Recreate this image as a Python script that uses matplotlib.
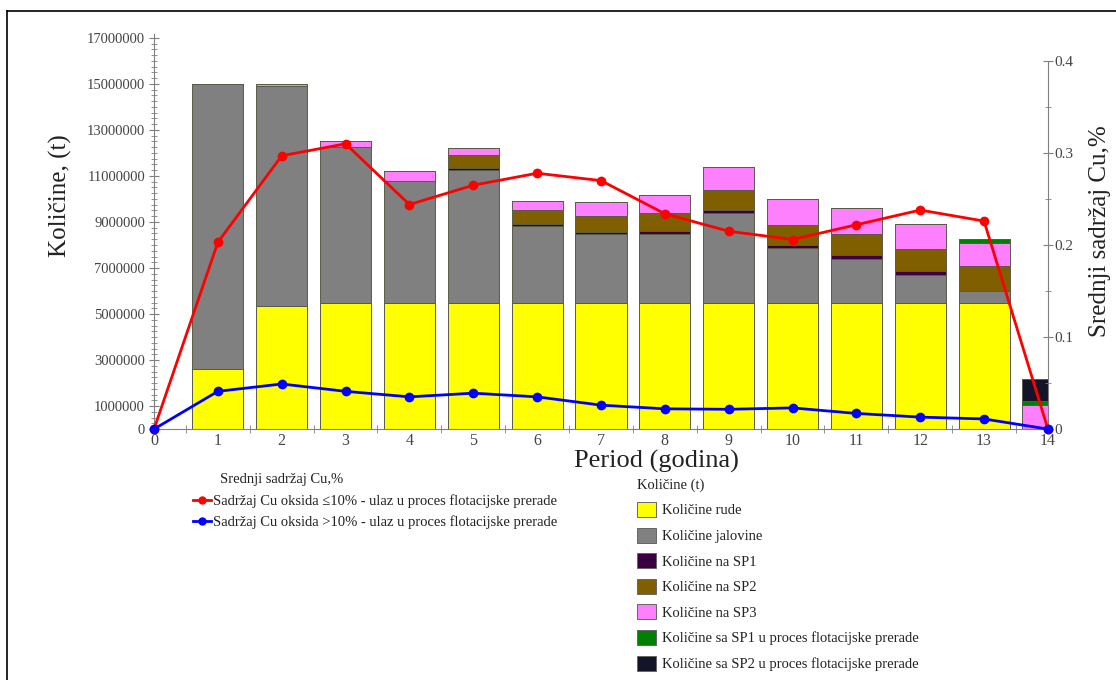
#!/usr/bin/env python3
"""
Stacked quantities per period with average Cu content on a second axis
"""
import numpy as np
import matplotlib
matplotlib.use('Agg')
import matplotlib.pyplot as plt
from matplotlib.lines import Line2D
from matplotlib.patches import Patch
from matplotlib.ticker import MultipleLocator, FixedLocator

plt.rcParams['font.family'] = ['Liberation Serif', 'DejaVu Serif']

periods = np.arange(1, 15)
# quantities in tonnes
ore   = [2.61e6, 5.33e6, 5.50e6, 5.50e6, 5.50e6, 5.50e6, 5.50e6, 5.50e6, 5.50e6, 5.50e6, 5.50e6, 5.50e6, 5.50e6, 0]
waste = [12.39e6, 9.59e6, 6.74e6, 5.27e6, 5.76e6, 3.31e6, 2.96e6, 2.96e6, 3.90e6, 2.36e6, 1.89e6, 1.20e6, 0.50e6, 0]
sp1   = [0, 0, 0, 0, 0.08e6, 0.10e6, 0.11e6, 0.17e6, 0.12e6, 0.15e6, 0.16e6, 0.15e6, 0, 0]
sp2   = [0, 0, 0, 0, 0.56e6, 0.60e6, 0.70e6, 0.78e6, 0.88e6, 0.85e6, 0.94e6, 0.97e6, 1.07e6, 0]
sp3   = [0, 0.09e6, 0.29e6, 0.43e6, 0.33e6, 0.39e6, 0.58e6, 0.78e6, 1.01e6, 1.14e6, 1.11e6, 1.08e6, 1.02e6, 1.05e6]
from_sp1 = [0, 0, 0, 0, 0, 0, 0, 0, 0, 0, 0, 0, 0.17e6, 0.17e6]
from_sp2 = [0, 0, 0, 0, 0, 0, 0, 0, 0, 0, 0, 0, 0, 0.95e6]

# average Cu content, %
line_x = np.arange(0, 15)
cu_low  = [0, 0.203, 0.297, 0.310, 0.244, 0.265, 0.278, 0.270, 0.234, 0.215, 0.206, 0.222, 0.238, 0.226, 0]
cu_high = [0, 0.041, 0.049, 0.041, 0.035, 0.039, 0.035, 0.026, 0.022, 0.0215, 0.023, 0.017, 0.013, 0.011, 0]

stack = [
    (ore, '#FFFF00', 'Količine rude'),
    (waste, '#808080', 'Količine jalovine'),
    (sp1, '#3C0040', 'Količine na SP1'),
    (sp2, '#7F5F00', 'Količine na SP2'),
    (sp3, '#FF80FF', 'Količine na SP3'),
    (from_sp1, '#008000', 'Količine sa SP1 u proces flotacijske prerade'),
    (from_sp2, '#141428', 'Količine sa SP2 u proces flotacijske prerade'),
]

fig = plt.figure(figsize=(11.16, 6.8), dpi=100)
ax = fig.add_axes([0.138, 0.369, 0.801, 0.581])

bottom = np.zeros(len(periods))
for vals, col, lab in stack:
    vals = np.array(vals, dtype=float)
    ax.bar(periods, vals, width=0.8, bottom=bottom, color=col,
           edgecolor='#5a5a48', linewidth=0.7, zorder=2)
    bottom += vals

axis_col = '#7f7f7f'
tick_col = '#444444'
lab_col = '#222222'

ax.set_xlim(0, 14)
ax.set_ylim(0, 17.17e6)
y_major = [0] + list(np.arange(1e6, 17.5e6, 2e6))
ax.yaxis.set_major_locator(FixedLocator(y_major))
ax.yaxis.set_minor_locator(MultipleLocator(250000))
ax.set_yticklabels([f'{int(v)}' for v in y_major])
ax.xaxis.set_major_locator(FixedLocator(list(range(15))))
ax.xaxis.set_minor_locator(FixedLocator(list(np.arange(0.5, 14, 1.0))))
ax.tick_params(axis='x', which='major', length=0, labelsize=11.5, labelcolor=tick_col, pad=3)
ax.tick_params(axis='x', which='minor', direction='inout', length=6, color=axis_col)
ax.tick_params(axis='y', which='major', direction='inout', length=7, color=axis_col,
               labelsize=10.5, labelcolor=tick_col, pad=3)
ax.tick_params(axis='y', which='minor', direction='inout', length=5, color=axis_col)
for s in ['top', 'right']:
    ax.spines[s].set_visible(False)
for s in ['left', 'bottom']:
    ax.spines[s].set_color(axis_col)
ax.set_ylabel('Količine, (t)', fontsize=18, color=lab_col)
ax.yaxis.set_label_coords(-0.092, 0.59)
ax.set_xlabel('Period (godina)', fontsize=19, color=lab_col)
ax.xaxis.set_label_coords(0.562, -0.052)

ax2 = ax.twinx()
ax2.set_ylim(0, 0.4293)
ax2.plot(line_x, cu_low, color='#FF0000', linewidth=2, marker='o', markersize=6,
         clip_on=False, zorder=5)
ax2.plot(line_x, cu_high, color='#0000FF', linewidth=2, marker='o', markersize=6,
         clip_on=False, zorder=5)
ax2.yaxis.set_major_locator(FixedLocator([0, 0.1, 0.2, 0.3, 0.4]))
ax2.yaxis.set_minor_locator(FixedLocator([0.05, 0.15, 0.25, 0.35]))
ax2.set_yticklabels(['0', '0.1', '0.2', '0.3', '0.4'])
ax2.tick_params(axis='y', which='major', direction='inout', length=7, color=axis_col,
                labelsize=11, labelcolor=tick_col, pad=1)
ax2.tick_params(axis='y', which='minor', direction='inout', length=5, color=axis_col)
for s in ['top', 'left', 'bottom']:
    ax2.spines[s].set_visible(False)
ax2.spines['right'].set_color(axis_col)
ax2.spines['right'].set_bounds(0, 0.4)
ax2.set_ylabel('Srednji sadržaj Cu,%', fontsize=18, color=lab_col)
ax2.yaxis.set_label_coords(1.046, 0.5)

# legends
line_handles = [
    Line2D([], [], color='#FF0000', linewidth=2, marker='o', markersize=5),
    Line2D([], [], color='#0000FF', linewidth=2, marker='o', markersize=5),
]
line_labels = ['Sadržaj Cu oksida ≤10% - ulaz u proces flotacijske prerade',
               'Sadržaj Cu oksida >10% - ulaz u proces flotacijske prerade']
fig.text(220 / 1116, 1 - 480 / 680, 'Srednji sadržaj Cu,%', fontsize=10.5,
         color=lab_col, va='center', ha='left')
fig.legend(line_handles, line_labels, loc='upper left',
           bbox_to_anchor=(193 / 1116, 1 - 494 / 680), frameon=False,
           fontsize=10.5, handlelength=1.2, handletextpad=0.2, labelspacing=0.5,
           borderpad=0, borderaxespad=0, labelcolor=lab_col)

bar_handles = [Patch(facecolor=c, edgecolor='#666666', linewidth=0.7) for _, c, _ in stack]
bar_labels = [lab for _, _, lab in stack]
fig.text(637 / 1116, 1 - 485 / 680, 'Količine (t)', fontsize=10.5,
         color=lab_col, va='center', ha='left')
fig.legend(bar_handles, bar_labels, loc='upper left',
           bbox_to_anchor=(637 / 1116, 1 - 502 / 680), frameon=False,
           fontsize=10.5, handlelength=1.3, handleheight=1.2, handletextpad=0.4,
           labelspacing=0.7, borderpad=0, borderaxespad=0, labelcolor=lab_col)

# frame lines of the original picture (left and top only)
fig.add_artist(Line2D([7 / 1116, 7 / 1116], [0, 1 - 11 / 680], color='black',
                      linewidth=1.2, transform=fig.transFigure))
fig.add_artist(Line2D([7 / 1116, 1], [1 - 11 / 680, 1 - 11 / 680], color='black',
                      linewidth=1.2, transform=fig.transFigure))

fig.savefig('out.png', dpi=100)
